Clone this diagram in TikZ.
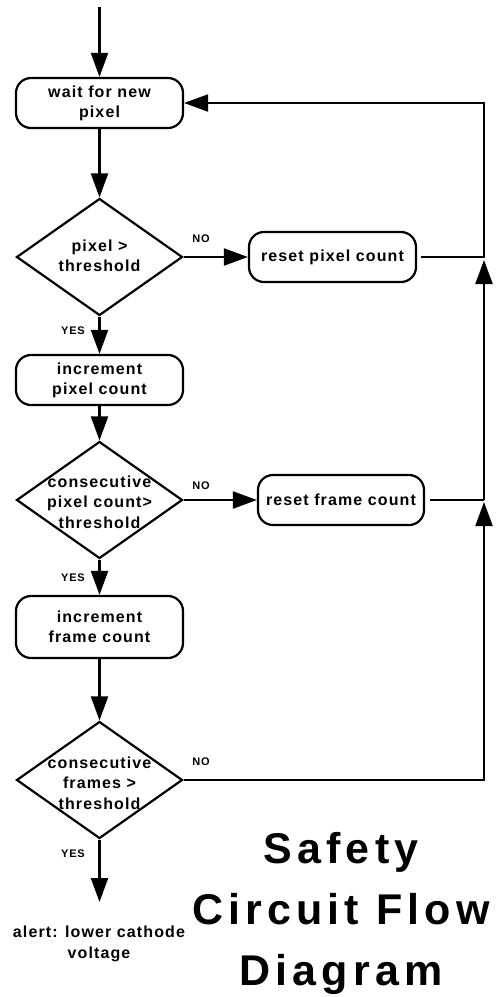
\documentclass[tikz,border=0pt]{standalone}
\usepackage{fontspec}
\setmainfont{Liberation Sans}
\newfontfamily\flowfont[LetterSpace=7]{Liberation Sans}
\newfontfamily\titlefont[LetterSpace=12]{Liberation Sans}
\usetikzlibrary{shapes.geometric,arrows.meta}

\begin{document}
\begin{tikzpicture}[x=1pt,y=-1pt,
  every node/.style={inner sep=0pt},
  proc/.style={draw, line width=2.2pt, rounded corners=15pt,
    minimum width=167pt, minimum height=50pt, align=center,
    font=\flowfont\bfseries\fontsize{16}{20}\selectfont},
  decision/.style={draw, diamond, line width=2.2pt,
    minimum width=166pt, minimum height=117pt},
  dtext/.style={align=center, font=\flowfont\bfseries\fontsize{16}{20.5}\selectfont},
  plain/.style={align=center, font=\flowfont\bfseries\fontsize{16}{20.5}\selectfont},
  lbl/.style={font=\flowfont\bfseries\fontsize{11}{12}\selectfont},
  flow/.style={line width=2.2pt, -{Triangle[length=24pt,width=17pt]}},
  wire/.style={line width=2.2pt}
]
\useasboundingbox (0,0) rectangle (498,997);

% main column
\coordinate (start) at (99.5,7);
\node[proc] (wait) at (99.5,103) {wait for new\\pixel};
\node[decision] (d1) at (99.5,257) {};
\node[dtext] (d1t) at (99.5,256) {pixel >\\threshold};
\node[proc] (incpix) at (99.5,380) {increment\\pixel count};
\node[decision] (d2) at (99.5,500) {};
\node[dtext] (d2t) at (99.5,502) {consecutive\\pixel count>\\threshold};
\node[proc, minimum height=62pt] (incfrm) at (99.5,627) {increment\\frame count};
\node[decision] (d3) at (99.5,780) {};
\node[dtext] (d3t) at (99.5,783) {consecutive\\frames >\\threshold};
\coordinate (yesend) at (99.5,902);
\node[plain] (alert) at (99,944) {alert: lower cathode\\voltage};

% reset branches
\node[proc] (rstpix) at (332.5,257) {reset pixel count};
\node[proc, minimum width=166pt] (rstfrm) at (341,500) {reset frame count};

% return path junctions
\coordinate (j1) at (484,257);
\coordinate (j2) at (484,500);

% branch labels
\node[lbl] (no1) at (201,239) {NO};
\node[lbl] (no2) at (201,486) {NO};
\node[lbl] (no3) at (201,762) {NO};
\node[lbl] (yes1) at (73,331) {YES};
\node[lbl] (yes2) at (73,578) {YES};
\node[lbl] (yes3) at (73,854) {YES};

% connectors down the main column
\draw[flow] (start) -- (wait);
\draw[flow] (wait) -- (d1);
\draw[flow] (d1) -- (incpix);
\draw[flow] (incpix) -- (d2);
\draw[flow] (d2) -- (incfrm);
\draw[flow] (incfrm) -- (d3);
\draw[flow] (d3) -- (yesend);

% NO branches
\draw[flow] (d1.east) -- (rstpix.west);
\draw[flow] (d2.east) -- (rstfrm.west);

% return lines
\draw[flow, shorten <=4pt] (rstpix.east) -- (j1) |- (wait.east);
\draw[wire, shorten <=5pt] (rstfrm.east) -- (j2);
\draw[flow, shorten >=3pt] (j2) -- (j1);
\draw[flow, shorten >=2pt] (d3.east) -| (j2);

% title
\node[align=center, font=\titlefont\bfseries\fontsize{43}{61}\selectfont]
  (title) at (341,913) {Safety\\Circuit Flow\\Diagram};
\end{tikzpicture}
\end{document}
